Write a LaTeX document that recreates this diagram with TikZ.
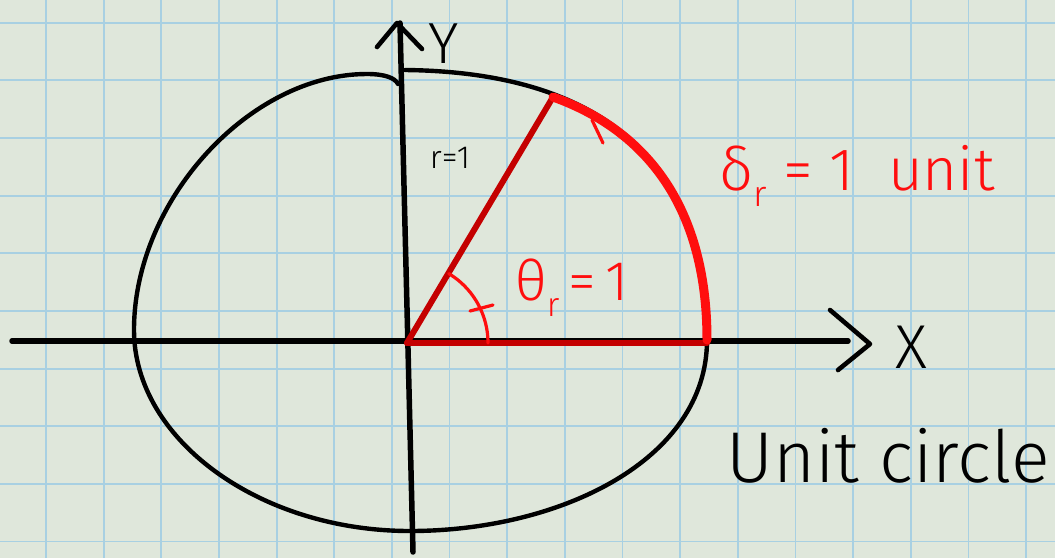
\documentclass[tikz,border=0pt]{standalone}
\usepackage{fontspec}
\IfFontExistsTF{Fira Sans Light}{\setsansfont{Fira Sans Light}}{\setsansfont{Fira Sans}}
\usepackage{tikz}
\definecolor{paper}{RGB}{223,231,219}
\definecolor{gridblue}{RGB}{168,208,226}
\definecolor{penred}{RGB}{255,14,14}
\definecolor{darkpen}{RGB}{196,0,0}
\newcommand{\lowr}{\raisebox{-0.28em}{\scalebox{0.6}{r}}}
\tikzset{
  axis/.style={line width=5.5pt, line cap=round, line join=round},
  pen/.style={line width=4.4pt, line cap=round, line join=round},
  redpen/.style={penred, line width=3.2pt, line cap=round, line join=round},
  hand/.style={inner sep=0pt, font=\sffamily\fontsize{#1pt}{#1pt}\selectfont},
}

\begin{document}
\begin{tikzpicture}[x=1pt, y=-1pt]
  % paper and squares
  \fill[paper] (0,0) rectangle (1055,558);
  \useasboundingbox (0,0) rectangle (1055,558);
  \foreach \i in {0,...,17}
    \draw[gridblue, line width=1.8pt] ({46+57.65*\i},0) -- ({46+57.65*\i},558);
  \foreach \j in {0,...,9}
    \draw[gridblue, line width=1.8pt] (0,{22.7+57.65*\j}) -- (1055,{22.7+57.65*\j});

  % points
  \coordinate (origin) at (407,343);
  \coordinate (xstart) at (12,341);
  \coordinate (xend) at (848,341);
  \coordinate (xtip) at (870,344);
  \coordinate (ystart) at (413,552);
  \coordinate (yend) at (400,23);
  \coordinate (ytip) at (397,23);
  \coordinate (arcend) at (553,97);
  \coordinate (onex) at (707,343);

  % the circle
  \draw[pen] (405,70) .. controls (600,72) and (707,160) .. (707,340)
    .. controls (707,460) and (560,531) .. (410,531)
    .. controls (260,531) and (134,440) .. (134,330)
    .. controls (134,200) and (250,74) .. (367,74)
    .. controls (385,74) and (395,78) .. (398,84);

  % axes
  \draw[axis] (xstart) -- (xend);
  \draw[pen, line width=4.6pt] (830,310) -- (xtip) -- (838,370);
  \draw[axis] (ystart) -- (yend);
  \draw[pen, line width=4.6pt] (377,47) -- (ytip) -- (422,49);
  \node[hand=62] (xlabel) at (911,347) {X};
  \node[hand=58] (ylabel) at (444,44) {Y};
  \node[hand=32] (rlabel) at (450,158) {r=1};

  % radius and arc
  \draw[darkpen, line width=6pt, line cap=round] (origin) -- (arcend);
  \draw[darkpen, line width=6pt, line cap=round] (origin) -- (onex);
  \draw[penred, line width=9pt, line cap=round]
    (553,97) .. controls (640,128) and (707,200) .. (707,340);
  \draw[redpen] (592,120) -- (603,143);
  \draw[redpen] plot[domain=0:59, samples=30] ({407+81*cos(\x)}, {343-81*sin(\x)});
  \draw[redpen] (470,311) -- (493,305);
  \node[hand=56, penred] (anglabel) at (572,288) {θ\lowr\,=\,1};
  \node[hand=60, penred] (arclabel) at (857,176) {δ\lowr\ =\ 1\ \ unit};

  \node[hand=72] (title) at (888,456) {Unit circle};
\end{tikzpicture}
\end{document}
